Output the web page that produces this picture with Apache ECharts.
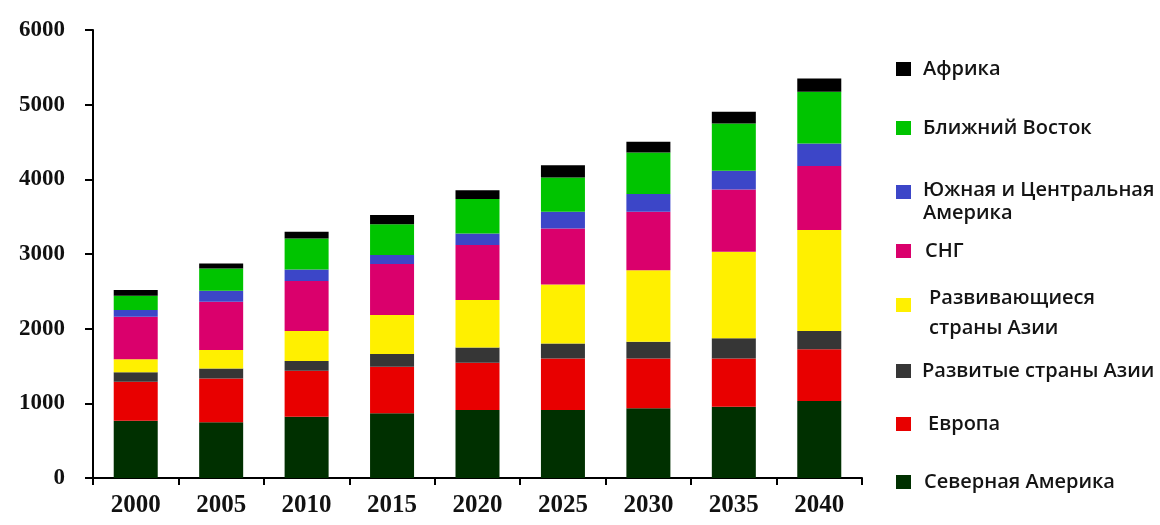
<!DOCTYPE html>
<html>
<head>
<meta charset="utf-8">
<script src="https://cdn.jsdelivr.net/npm/echarts@6/dist/echarts.min.js"></script>
<style>
html,body{margin:0;padding:0;background:#fff;}
#chart{width:1160px;height:525px;}
</style>
</head>
<body>
<div id="chart"></div>
<script>
const years = ['2000','2005','2010','2015','2020','2025','2030','2035','2040'];
const yTicks = [0, 1000, 2000, 3000, 4000, 5000, 6000];

const northAmerica   = [767, 745, 821, 866, 910, 910, 933, 955, 1031];
const europe         = [522, 589, 616, 624, 634, 692, 669, 647, 692];
const developedAsia  = [126, 134, 129, 170, 205, 201, 223, 268, 245];
const developingAsia = [174, 246, 402, 522, 634, 790, 959, 1160, 1352];
const cis            = [571, 647, 669, 683, 736, 750, 782, 835, 857];
const southCentralAm = [89, 147, 156, 120, 156, 223, 236, 249, 304];
const middleEast     = [191, 299, 415, 415, 460, 459, 558, 634, 691];
const africa         = [77, 67, 89, 121, 120, 165, 142, 156, 179];

const seriesNames = ['Северная Америка','Европа','Развитые страны Азии','Развивающиеся страны Азии','СНГ','Южная и Центральная Америка','Ближний Восток','Африка'];
const seriesData = [northAmerica, europe, developedAsia, developingAsia, cis, southCentralAm, middleEast, africa];
const colors = ['#003000','#e80000','#363636','#fff000','#da006c','#3c46c8','#00c400','#000000'];

const legendLines = {
  'Южная и Центральная Америка': ['Южная и Центральная', 'Америка'],
  'Развивающиеся страны Азии': ['Развивающиеся', 'страны Азии']
};
// legend layout: [name, top, left text padding, spacer height, line height]
const legendLayout = [
  ['Африка', 59, 7, 0, 29],
  ['Ближний Восток', 118, 7, 0, 29],
  ['Южная и Центральная Америка', 168, 7, 20, 23],
  ['СНГ', 241, 9, 0, 29],
  ['Развивающиеся страны Азии', 274, 13, 17, 30],
  ['Развитые страны Азии', 361, 6, 0, 29],
  ['Европа', 414, 12, 0, 29],
  ['Северная Америка', 472, 8, 0, 29]
];

const chart = echarts.init(document.getElementById('chart'), null, {renderer:'canvas'});
const option = {
  animation: false,
  backgroundColor: '#ffffff',
  grid: {left: 93, right: 298, top: 30, bottom: 47, containLabel: false},
  xAxis: {
    type: 'category',
    data: years,
    boundaryGap: true,
    axisLine: {show: true, lineStyle: {color: '#000', width: 2}},
    axisTick: {show: true, length: 7, lineStyle: {color: '#000', width: 2}},
    axisLabel: {margin: 15, color: '#111', fontFamily: 'Liberation Serif', fontWeight: 'bold', fontSize: 25}
  },
  yAxis: {
    type: 'value',
    min: yTicks[0],
    max: yTicks[yTicks.length - 1],
    interval: yTicks[1] - yTicks[0],
    splitLine: {show: false},
    axisLine: {show: true, lineStyle: {color: '#000', width: 2}},
    axisTick: {show: true, length: 8, lineStyle: {color: '#000', width: 2}},
    axisLabel: {margin: 28, color: '#111', fontFamily: 'Liberation Serif', fontWeight: 'bold', fontSize: 23,
      formatter: function (v) { return String(v); }}
  },
  legend: legendLayout.map(function (l) {
    const lines = legendLines[l[0]];
    return {
      data: [l[0]],
      left: 896,
      top: l[1],
      padding: 0,
      icon: 'rect',
      itemWidth: 15,
      itemHeight: 14,
      selectedMode: false,
      formatter: function (name) {
        if (lines) {
          return '{s| }\n{t|' + lines[0] + '}\n{t|' + lines[1] + '}';
        }
        return '{t|' + name + '}';
      },
      textStyle: {
        fontFamily: 'Open Sans', fontSize: 20, fontWeight: 600, color: '#141414',
        padding: [0, 0, 0, l[2]],
        rich: {
          s: {fontSize: 2, lineHeight: l[3]},
          t: {fontFamily: 'Open Sans', fontSize: 20, fontWeight: 600, color: '#141414', lineHeight: l[4]}
        }
      }
    };
  }),
  series: seriesNames.map(function (name, i) {
    return {
      name: name,
      type: 'bar',
      stack: 'total',
      barWidth: '51.5%',
      itemStyle: {color: colors[i]},
      data: seriesData[i]
    };
  })
};
chart.setOption(option);
</script>
</body>
</html>
